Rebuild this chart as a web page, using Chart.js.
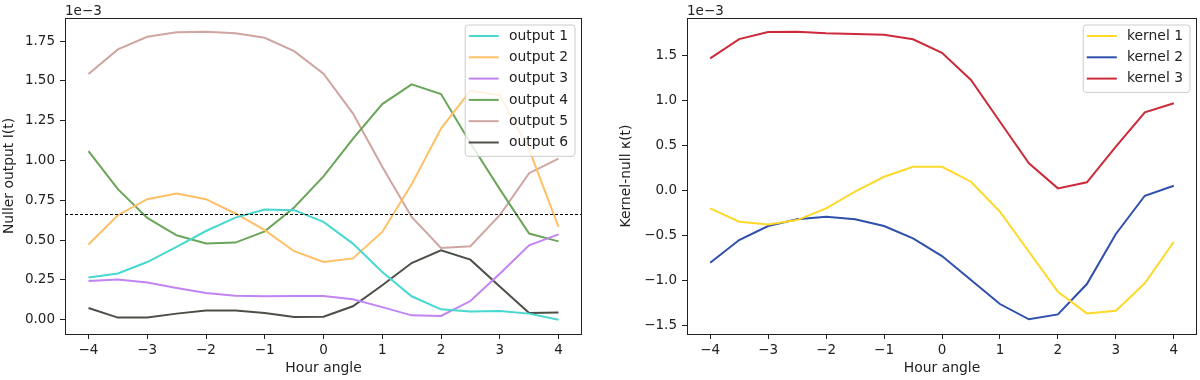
<!DOCTYPE html>
<html>
<head>
<meta charset="utf-8">
<script src="https://cdn.jsdelivr.net/npm/chart.js@4.4.0/dist/chart.umd.min.js"></script>
<style>
    body { margin: 0; background: #fff; }
    #wrap { position: relative; width: 1200px; height: 380px; }
    .panel { position: absolute; top: 0; width: 600px; height: 380px; }
</style>
</head>
<body>
<div id="wrap">
    <div class="panel" style="left:0"><canvas id="nullerChart" width="600" height="380"></canvas></div>
    <div class="panel" style="left:600px"><canvas id="kernelChart" width="600" height="380"></canvas></div>
</div>
<script>
// values in units of 1e-3
const hourAngle = [-4, -3.5, -3, -2.5, -2, -1.5, -1, -0.5, 0, 0.5, 1, 1.5, 2, 2.5, 3, 3.5, 4];

const output1 = [0.265, 0.29, 0.362, 0.457, 0.557, 0.641, 0.692, 0.688, 0.614, 0.478, 0.299, 0.147, 0.065, 0.052, 0.055, 0.038, 0.0];
const output2 = [0.472, 0.656, 0.757, 0.792, 0.757, 0.667, 0.562, 0.43, 0.362, 0.385, 0.551, 0.85, 1.2, 1.438, 1.411, 1.07, 0.583];
const output3 = [0.243, 0.253, 0.234, 0.199, 0.167, 0.151, 0.147, 0.149, 0.149, 0.128, 0.079, 0.027, 0.023, 0.117, 0.289, 0.467, 0.536];
const output4 = [1.059, 0.82, 0.639, 0.53, 0.478, 0.484, 0.555, 0.705, 0.9, 1.136, 1.354, 1.478, 1.417, 1.11, 0.82, 0.541, 0.492];
const output5 = [1.543, 1.698, 1.777, 1.805, 1.809, 1.799, 1.771, 1.687, 1.545, 1.296, 0.96, 0.645, 0.45, 0.461, 0.656, 0.92, 1.012];
const output6 = [0.073, 0.013, 0.013, 0.038, 0.058, 0.058, 0.042, 0.017, 0.019, 0.084, 0.216, 0.356, 0.436, 0.377, 0.209, 0.042, 0.045];
const nullThreshold = 0.662;

const kernel1 = [-0.198, -0.346, -0.376, -0.328, -0.198, -0.013, 0.153, 0.264, 0.264, 0.098, -0.235, -0.68, -1.124, -1.365, -1.335, -1.031, -0.569];
const kernel2 = [-0.802, -0.55, -0.394, -0.32, -0.291, -0.32, -0.394, -0.531, -0.728, -0.994, -1.261, -1.431, -1.376, -1.039, -0.483, -0.058, 0.053];
const kernel3 = [1.469, 1.683, 1.761, 1.765, 1.747, 1.739, 1.731, 1.68, 1.531, 1.228, 0.764, 0.302, 0.024, 0.091, 0.487, 0.869, 0.969];

const xTicks = [-4, -3, -2, -1, 0, 1, 2, 3, 4];
const nullerTicks = [0, 0.25, 0.5, 0.75, 1.0, 1.25, 1.5, 1.75];
const kernelTicks = [-1.5, -1.0, -0.5, 0, 0.5, 1.0, 1.5];

const FONT = 'DejaVu Sans';
const TEXT = '#222';
const minus = (s) => s.replace('-', '\u2212');

const toPoints = (values) => hourAngle.map((h, i) => ({ x: h, y: values[i] }));

const line = (label, values, color) => ({
    label,
    data: toPoints(values),
    borderColor: color,
    backgroundColor: color,
    borderWidth: 2,
    pointRadius: 0,
    tension: 0,
    fill: false
});

// frame, dashed threshold, legend box and the 1e-3 offset text, matplotlib style
const axesDecor = {
    id: 'axesDecor',
    afterDatasetsDraw(chart, args, opts) {
        const { ctx, chartArea: a, scales } = chart;
        ctx.save();

        if (opts.hline !== undefined) {
            const y = Math.round(scales.y.getPixelForValue(opts.hline)) + 0.5;
            ctx.strokeStyle = '#000';
            ctx.lineWidth = 1;
            ctx.setLineDash([3, 2]);
            ctx.beginPath();
            ctx.moveTo(a.left, y);
            ctx.lineTo(a.right, y);
            ctx.stroke();
            ctx.setLineDash([]);
        }

        ctx.strokeStyle = '#222';
        ctx.lineWidth = 1;
        ctx.strokeRect(Math.round(a.left) + 0.5, Math.round(a.top) + 0.5,
            Math.round(a.right - a.left) - 1, Math.round(a.bottom - a.top));

        // legend
        const sets = chart.data.datasets;
        ctx.font = `13.9px ${FONT}`;
        const textW = Math.max(...sets.map(d => ctx.measureText(d.label).width));
        const rowH = 21.3;
        const boxW = 43.7 + textW + 7;
        const boxH = sets.length * rowH + 3.5;
        const bx = a.right - 7 - boxW;
        const by = a.top + 7;
        ctx.fillStyle = 'rgba(255,255,255,0.8)';
        ctx.strokeStyle = '#cccccc';
        ctx.beginPath();
        ctx.roundRect(bx, by, boxW, boxH, 3);
        ctx.fill();
        ctx.stroke();
        ctx.textBaseline = 'middle';
        ctx.textAlign = 'left';
        sets.forEach((d, i) => {
            const y = by + 11 + i * rowH;
            ctx.strokeStyle = d.borderColor;
            ctx.lineWidth = 2;
            ctx.beginPath();
            ctx.moveTo(bx + 3.5, y);
            ctx.lineTo(bx + 33.5, y);
            ctx.stroke();
            ctx.fillStyle = TEXT;
            ctx.fillText(d.label, bx + 43.7, y);
        });

        // offset text
        ctx.font = `13.5px ${FONT}`;
        ctx.textBaseline = 'alphabetic';
        ctx.fillText('1e\u22123', a.left, 15);
        ctx.restore();
    }
};

function buildChart(canvasId, datasets, cfg) {
    const ctx = document.getElementById(canvasId).getContext('2d');
    return new Chart(ctx, {
        type: 'line',
        data: { datasets },
        plugins: [axesDecor],
        options: {
            responsive: false,
            animation: false,
            layout: { padding: { top: 18, right: cfg.padRight, bottom: 0, left: 0 } },
            plugins: {
                legend: { display: false },
                tooltip: { enabled: false },
                axesDecor: { hline: cfg.hline }
            },
            scales: {
                x: {
                    type: 'linear',
                    min: -4.4,
                    max: 4.4,
                    afterBuildTicks: (scale) => { scale.ticks = xTicks.map(v => ({ value: v })); },
                    afterFit: (scale) => { scale.height = 46; },
                    grid: { drawOnChartArea: false, drawTicks: true, tickLength: 5, color: '#222' },
                    border: { display: false },
                    ticks: {
                        padding: 3,
                        color: TEXT,
                        font: { family: FONT, size: 13.5 },
                        callback: (v) => minus(String(v))
                    },
                    title: {
                        display: true,
                        text: 'Hour angle',
                        color: TEXT,
                        font: { family: FONT, size: 13.9 },
                        padding: { top: 0, bottom: 3.5 }
                    }
                },
                y: {
                    type: 'linear',
                    min: cfg.yMin,
                    max: cfg.yMax,
                    afterBuildTicks: (scale) => { scale.ticks = cfg.yTicks.map(v => ({ value: v })); },
                    afterFit: (scale) => { scale.width = cfg.yWidth; },
                    grid: { drawOnChartArea: false, drawTicks: true, tickLength: 5, color: '#222' },
                    border: { display: false },
                    ticks: {
                        padding: 5,
                        color: TEXT,
                        font: { family: FONT, size: 13.5 },
                        callback: (v) => minus(v.toFixed(cfg.decimals))
                    },
                    title: {
                        display: true,
                        text: cfg.yTitle,
                        color: TEXT,
                        font: { family: FONT, size: 13.9 },
                        padding: { top: cfg.titlePad, bottom: 0 }
                    }
                }
            }
        }
    });
}

document.addEventListener('DOMContentLoaded', () => {
    buildChart('nullerChart', [
        line('output 1', output1, '#48d8d0'),
        line('output 2', output2, '#ffbf66'),
        line('output 3', output3, '#c284f2'),
        line('output 4', output4, '#6aa55a'),
        line('output 5', output5, '#cfa59f'),
        line('output 6', output6, '#4e4e48')
    ], {
        padRight: 18, yMin: -0.09, yMax: 1.895, yTicks: nullerTicks, decimals: 2,
        yWidth: 65, yTitle: 'Nuller output I(t)', titlePad: 0.7, hline: nullThreshold
    });

    buildChart('kernelChart', [
        line('kernel 1', kernel1, '#ffd92a'),
        line('kernel 2', kernel2, '#2f4fac'),
        line('kernel 3', kernel3, '#cc2a3a')
    ], {
        padRight: 3, yMin: -1.594, yMax: 1.917, yTicks: kernelTicks, decimals: 1,
        yWidth: 87, yTitle: 'Kernel-null \u03ba(t)', titlePad: 17.7
    });
});
</script>
</body>
</html>
